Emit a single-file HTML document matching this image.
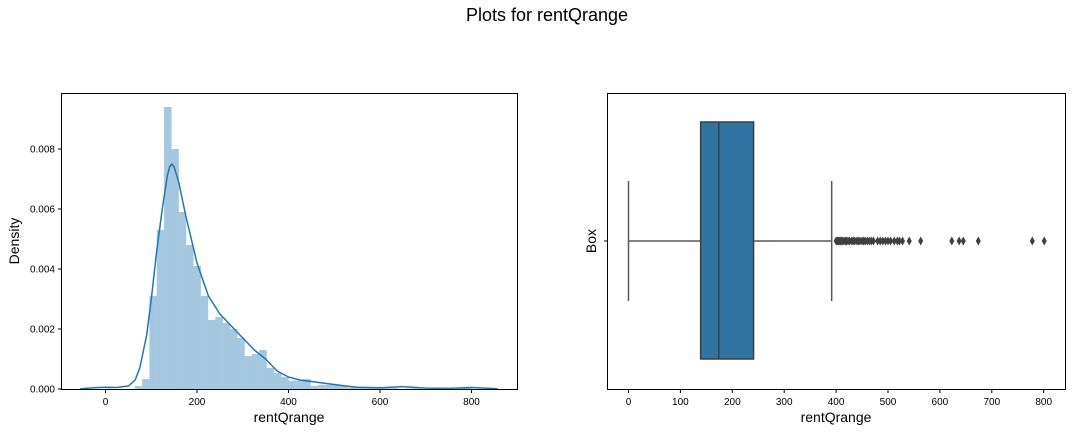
<!DOCTYPE html>
<html><head><meta charset="utf-8"><style>
body{margin:0;background:#fff;font-family:"Liberation Sans",sans-serif}
svg text{font-family:"Liberation Sans",sans-serif}
</style></head><body>
<svg id="fig" width="1075" height="432" xmlns="http://www.w3.org/2000/svg">
<text x="547" y="21" font-size="18" text-anchor="middle">Plots for rentQrange</text>
<g id="left"></g>
<g id="right"></g>
</svg>
<script>
const binStart = 0, binWidth = 16;
const histDensity = [0.00001,0,0,0,0.0001,0.00033,0.0031,0.0053,0.0094,0.0080,0.0059,0.0048,0.0041,0.0031,0.0023,0.0024,0.0022,0.0020,0.0017,0.0011,0.00117,0.0013,0.0007,0.00054,0.0004,0.00028,0.00028,0.00033,0.0001,0.00014,0.00014,0.00014,0.0001,0.00005,0.00004,0.00003,0.00004,0.00003,0.00003,0.00003,0,0.00002,0.00002,0,0,0,0,0,0.00002,0.00003];
const kdeX = [-55,-25,0,25,50,65,75,90,100,112,125,135,140,145,150,160,175,200,225,250,275,300,325,350,375,400,425,450,475,500,525,550,600,650,700,750,800,857];
const kdeY = [0.00001,0.00004,0.00006,0.00005,0.0001,0.0003,0.0007,0.0018,0.0030,0.0046,0.0061,0.0071,0.0074,0.0075,0.0074,0.0069,0.0058,0.0042,0.0031,0.0025,0.0021,0.0017,0.0013,0.0010,0.0006,0.0004,0.0003,0.00025,0.0002,0.00015,0.0001,0.00006,0.00004,0.00008,0.00003,0.00002,0.00005,0.00001];
const leftXTicks = [0,200,400,600,800];
const leftYTicks = [0,0.002,0.004,0.006,0.008];
const boxStats = {min:0, q1:139, median:174, q3:241, max:391.5};
const outliers = [400,402,404,406,408,410,412,415,418,420,423,426,430,433,436,440,443,446,450,453,456,460,464,468,472,480,485,490,495,500,505,512,518,522,528,541,563,623,637,645,674,778,801];
const rightXTicks = [0,100,200,300,400,500,600,700,800];

const NS="http://www.w3.org/2000/svg";
function el(p,t,a){const e=document.createElementNS(NS,t);for(const k in a)e.setAttribute(k,a[k]);p.appendChild(e);return e;}
const L=document.getElementById('left'), R=document.getElementById('right');
// left axes
const lx=v=>105.5+v*0.4575, ly=v=>389-v*30000;
histDensity.forEach((d,i)=>{
  const b=el(L,'rect',{x:lx(binStart+i*binWidth),y:ly(d),width:binWidth*0.4575+0.2,height:389-ly(d),fill:'#a5c8e1'});
  
  
});
let dstr=kdeX.map((x,i)=>(i?'L':'M')+lx(x).toFixed(1)+','+ly(kdeY[i]).toFixed(1)).join('');
const kp=el(L,'path',{d:dstr,fill:'none',stroke:'#1f77b4','stroke-width':1.5,'stroke-linejoin':'round'});


const lf=el(L,'rect',{x:61.5,y:93.5,width:456,height:296,fill:'none',stroke:'#000','stroke-width':1});


leftXTicks.forEach(t=>{
  el(L,'line',{x1:lx(t),x2:lx(t),y1:389.5,y2:393,stroke:'#000'});
  const tx=el(L,'text',{x:lx(t),y:405,'font-size':10,'text-anchor':'middle'});tx.textContent=t;
  
  
});
leftYTicks.forEach(t=>{
  el(L,'line',{x1:58,x2:61.5,y1:ly(t),y2:ly(t),stroke:'#000'});
  const tx=el(L,'text',{x:55,y:ly(t)+3.5,'font-size':10,'text-anchor':'end'});tx.textContent=t.toFixed(3);
  
  
});
let t1=el(L,'text',{x:289,y:422,'font-size':14,'text-anchor':'middle'});t1.textContent='rentQrange';


let t2=el(L,'text',{x:19,y:241,'font-size':14,'text-anchor':'middle',transform:'rotate(-90 19 241)'});t2.textContent='Density';


// right axes
const rx=v=>628.5+v*0.519, cy=241;
el(R,'line',{x1:rx(boxStats.min),x2:rx(boxStats.q1),y1:cy,y2:cy,stroke:'#595959','stroke-width':1.5});
el(R,'line',{x1:rx(boxStats.q3),x2:rx(boxStats.max),y1:cy,y2:cy,stroke:'#595959','stroke-width':1.5});
el(R,'line',{x1:rx(boxStats.min),x2:rx(boxStats.min),y1:181,y2:301,stroke:'#595959','stroke-width':1.5});
el(R,'line',{x1:rx(boxStats.max),x2:rx(boxStats.max),y1:181,y2:301,stroke:'#595959','stroke-width':1.5});
const bx=el(R,'rect',{x:rx(boxStats.q1),y:122,width:rx(boxStats.q3)-rx(boxStats.q1),height:237,fill:'#3274a1',stroke:'#3f3f3f','stroke-width':1.5});


el(R,'line',{x1:rx(boxStats.median),x2:rx(boxStats.median),y1:122,y2:359,stroke:'#3f3f3f','stroke-width':1.5});
outliers.forEach(o=>{
  const x=rx(o);
  const p=el(R,'path',{d:`M${x},${cy-4.5}L${x+2.5},${cy}L${x},${cy+4.5}L${x-2.5},${cy}Z`,fill:'#3f3f3f'});
  
  
});
const rf=el(R,'rect',{x:607.5,y:93.5,width:458,height:296,fill:'none',stroke:'#000','stroke-width':1});


rightXTicks.forEach(t=>{
  el(R,'line',{x1:rx(t),x2:rx(t),y1:389.5,y2:393,stroke:'#000'});
  const tx=el(R,'text',{x:rx(t),y:405,'font-size':10,'text-anchor':'middle'});tx.textContent=t;
  
  
});
el(R,'line',{x1:604,x2:607.5,y1:cy,y2:cy,stroke:'#000'});
let t3=el(R,'text',{x:836,y:422,'font-size':14,'text-anchor':'middle'});t3.textContent='rentQrange';


let t4=el(R,'text',{x:596,y:241,'font-size':14,'text-anchor':'middle',transform:'rotate(-90 596 241)'});t4.textContent='Box';


</script>
</body></html>
